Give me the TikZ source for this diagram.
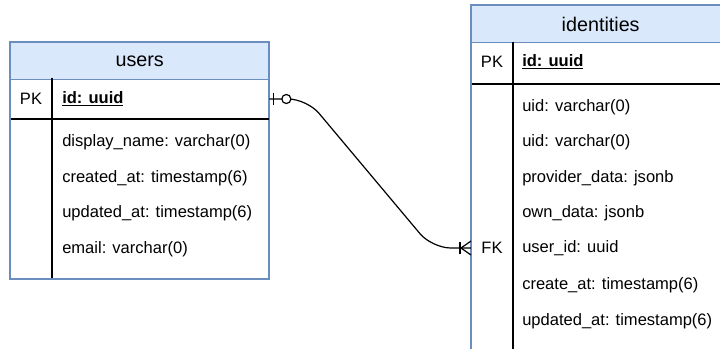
\documentclass[tikz,border=0pt]{standalone}
\usepackage{fontspec}
\setmainfont{Liberation Sans}
\usetikzlibrary{calc}
\definecolor{hdrblue}{HTML}{DAE8FC}
\definecolor{tblblue}{HTML}{6C8EBF}
\begin{document}
\begin{tikzpicture}[x=0.75pt,y=-0.75pt,
  every node/.style={font=\fontsize{12.4}{15}\selectfont, inner sep=0pt},
  tblbox/.style={draw=tblblue, line width=1pt, anchor=north west, minimum width=193.5pt},
  hdr/.style={tblbox, fill=hdrblue, minimum height=27.75pt, font=\fontsize{14.8}{17}\selectfont},
  sep/.style={black, line width=0.9pt},
  keytxt/.style={anchor=center},
  fieldtxt/.style={anchor=west},
  conn/.style={black, line width=0.9pt}]
\useasboundingbox (0,0) rectangle (720,349);
\clip (0,0) rectangle (720,349);

% ---------- users ----------
\node[tblbox, minimum height=177pt] (users) at (10,42) {};
\node[hdr] (usersH) at (10,42) {users};
\coordinate (uLine) at (10,119);
\draw[sep] (uLine) -- (uLine -| users.east);
\draw[sep] (52,78) -- (52,278);
\node[keytxt] (uPK) at (31,99) {PK};
\node[fieldtxt] (uId) at (62,99) {\textbf{\underline{id: uuid}}};
\node[fieldtxt] (uF1) at (62,142) {display\_name: varchar(0)};
\node[fieldtxt] (uF2) at (62,178) {created\_at: timestamp(6)};
\node[fieldtxt] (uF3) at (62,213.5) {updated\_at: timestamp(6)};
\node[fieldtxt] (uF4) at (62,249) {email: varchar(0)};
\draw[draw=tblblue, line width=1pt] (users.north west) rectangle (users.south east);

% ---------- identities ----------
\node[tblbox, minimum height=300pt] (ident) at (471,5) {};
\node[hdr] (identH) at (471,5) {identities};
\coordinate (iLine) at (471,84);
\draw[sep] (iLine) -- (iLine -| ident.east);
\draw[sep] (513,42) -- (513,360);
\node[keytxt] (iPK) at (492,62) {PK};
\node[fieldtxt] (iId) at (522,62) {\textbf{\underline{id: uuid}}};
\node[fieldtxt] (iF1) at (522,107) {uid: varchar(0)};
\node[fieldtxt] (iF2) at (522,142.5) {uid: varchar(0)};
\node[fieldtxt] (iF3) at (522,178) {provider\_data: jsonb};
\node[fieldtxt] (iF4) at (522,213.5) {own\_data: jsonb};
\node[keytxt] (iFK) at (492,248) {FK};
\node[fieldtxt] (iF5) at (522,248) {user\_id: uuid};
\node[fieldtxt] (iF6) at (522,285) {create\_at: timestamp(6)};
\node[fieldtxt] (iF7) at (522,321) {updated\_at: timestamp(6)};
\draw[draw=tblblue, line width=1pt] (ident.north west) rectangle (ident.south east);

% ---------- connector ----------
\coordinate (cA) at (users.east |- uId);
\coordinate (cB) at (ident.west |- iFK);
\coordinate (k1) at (307,99);
\coordinate (k2) at (432,248);
\draw[conn, rounded corners=14pt] (cA) -- (k1) -- (k2) -- (cB);
% zero-or-one at users
\draw[conn] ($(cA)+(4,-6)$) -- ($(cA)+(4,6)$);
\draw[conn, fill=white] ($(cA)+(17,0)$) circle (3.4pt);
% one-or-many at identities
\coordinate (cf) at ($(cB)+(-10,0)$);
\draw[conn] (cf) -- ($(cB)+(0,-7)$);
\draw[conn] (cf) -- ($(cB)+(0,7)$);
\draw[conn] ($(cB)+(-11,-6)$) -- ($(cB)+(-11,6)$);
\end{tikzpicture}
\end{document}
